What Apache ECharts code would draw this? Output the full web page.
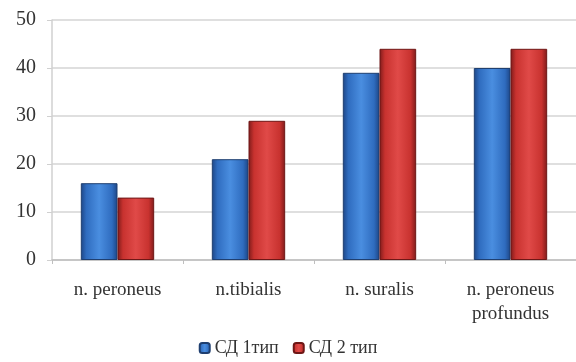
<!DOCTYPE html>
<html>
<head>
<meta charset="utf-8">
<script src="https://cdn.jsdelivr.net/npm/echarts@6/dist/echarts.min.js"></script>
<style>
	html, body { margin: 0; padding: 0; background: #fff; }
	#chart { width: 576px; height: 362px; }
</style>
</head>
<body>
<div id="chart"></div>
<script>
const categories = ["n. peroneus", "n.tibialis", "n. suralis", "n. peroneus\nprofundus"];
const sd1 = [16, 21, 39, 40];
const sd2 = [13, 29, 44, 44];
const seriesNames = ["СД 1тип", "СД 2 тип"];
const yTicks = [0, 10, 20, 30, 40, 50];

const serif = "'Liberation Serif', 'DejaVu Serif', serif";

function barColor(light, mid, dark) {
	return new echarts.graphic.LinearGradient(0, 0, 1, 0, [
		{ offset: 0, color: dark },
		{ offset: 0.15, color: mid },
		{ offset: 0.5, color: light },
		{ offset: 0.85, color: mid },
		{ offset: 1, color: dark }
	]);
}

var chart = echarts.init(document.getElementById("chart"));
var option = {
	animation: false,
	textStyle: { fontFamily: serif },
	grid: { left: 52, right: 0, top: 20, bottom: 102 },
	legend: {
		bottom: 0,
		left: "center",
		itemWidth: 10,
		itemHeight: 10,
		itemGap: 14,
		textStyle: { fontFamily: serif, fontSize: 18, color: "#333" },
		data: seriesNames
	},
	xAxis: {
		type: "category",
		data: categories,
		axisLine: { lineStyle: { color: "#bfbfbf", width: 1.5 } },
		axisTick: { show: true, length: 4, lineStyle: { color: "#bfbfbf" } },
		axisLabel: { fontFamily: serif, color: "#333", fontSize: 19, lineHeight: 24, margin: 18 }
	},
	yAxis: {
		type: "value",
		min: yTicks[0],
		max: yTicks[yTicks.length - 1],
		interval: 10,
		axisLine: { show: true, lineStyle: { color: "#d0d0d0", width: 1.5 } },
		axisTick: { show: true, length: 5, lineStyle: { color: "#d0d0d0" } },
		axisLabel: { fontFamily: serif, color: "#333", fontSize: 20, margin: 16 },
		splitLine: { lineStyle: { color: "#d4d4d4", width: 1.5 } }
	},
	series: [
		{
			name: seriesNames[0],
			type: "bar",
			data: sd1,
			barCategoryGap: "44%",
			barGap: "0%",
			itemStyle: {
				color: barColor("#4a8ee0", "#2f6cbf", "#1d4585"),
				borderColor: "#1f3f70",
				borderWidth: 1
			}
		},
		{
			name: seriesNames[1],
			type: "bar",
			data: sd2,
			barCategoryGap: "44%",
			barGap: "0%",
			itemStyle: {
				color: barColor("#e04a48", "#c8322f", "#7e1b1a"),
				borderColor: "#6e1716",
				borderWidth: 1
			}
		}
	]
};
chart.setOption(option);
</script>
</body>
</html>
